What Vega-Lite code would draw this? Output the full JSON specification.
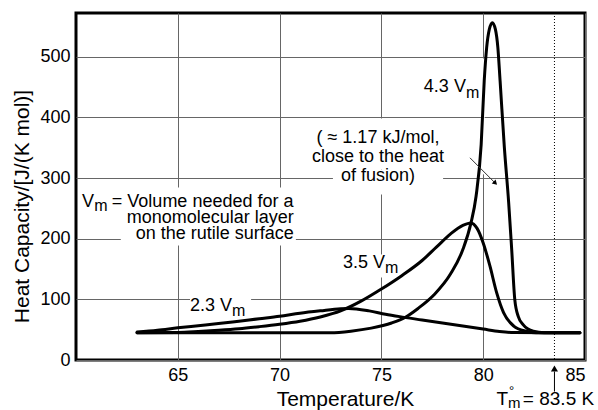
{
  "$schema": "https://vega.github.io/schema/vega-lite/v6.json",
  "width": 509,
  "height": 347,
  "autosize": {"type": "none"},
  "padding": {"left": 76, "top": 13, "right": 13, "bottom": 50},
  "background": "white",
  "config": {
    "font": "Liberation Sans",
    "view": {"stroke": "black", "strokeWidth": 3}
  },
  "datasets": {
    "curves": [
      {"s": "2.3", "t": 63, "c": 46}, {"s": "2.3", "t": 64, "c": 49}, {"s": "2.3", "t": 65, "c": 53}, {"s": "2.3", "t": 66, "c": 56.5},
      {"s": "2.3", "t": 67, "c": 60}, {"s": "2.3", "t": 68, "c": 64}, {"s": "2.3", "t": 69, "c": 68}, {"s": "2.3", "t": 70, "c": 72},
      {"s": "2.3", "t": 71, "c": 77}, {"s": "2.3", "t": 72, "c": 81}, {"s": "2.3", "t": 73, "c": 84.5}, {"s": "2.3", "t": 73.4, "c": 85},
      {"s": "2.3", "t": 74.4, "c": 81}, {"s": "2.3", "t": 75.2, "c": 75.5}, {"s": "2.3", "t": 75.9, "c": 71.5}, {"s": "2.3", "t": 77, "c": 66},
      {"s": "2.3", "t": 78, "c": 61}, {"s": "2.3", "t": 79, "c": 56}, {"s": "2.3", "t": 80, "c": 51}, {"s": "2.3", "t": 80.8, "c": 47},
      {"s": "2.3", "t": 81.5, "c": 45.3}, {"s": "2.3", "t": 84.75, "c": 45},
      {"s": "3.5", "t": 63, "c": 45}, {"s": "3.5", "t": 65, "c": 45.5}, {"s": "3.5", "t": 66, "c": 47}, {"s": "3.5", "t": 67, "c": 49},
      {"s": "3.5", "t": 68, "c": 51.5}, {"s": "3.5", "t": 69, "c": 55}, {"s": "3.5", "t": 70, "c": 59}, {"s": "3.5", "t": 71, "c": 64},
      {"s": "3.5", "t": 72, "c": 71}, {"s": "3.5", "t": 73, "c": 81}, {"s": "3.5", "t": 74, "c": 97}, {"s": "3.5", "t": 75, "c": 117},
      {"s": "3.5", "t": 76, "c": 139}, {"s": "3.5", "t": 77, "c": 164}, {"s": "3.5", "t": 77.7, "c": 186}, {"s": "3.5", "t": 78.4, "c": 208},
      {"s": "3.5", "t": 79, "c": 222}, {"s": "3.5", "t": 79.4, "c": 226}, {"s": "3.5", "t": 79.7, "c": 217}, {"s": "3.5", "t": 80, "c": 193},
      {"s": "3.5", "t": 80.33, "c": 155}, {"s": "3.5", "t": 80.66, "c": 111}, {"s": "3.5", "t": 81, "c": 78}, {"s": "3.5", "t": 81.5, "c": 56},
      {"s": "3.5", "t": 82.1, "c": 47.5}, {"s": "3.5", "t": 82.6, "c": 45}, {"s": "3.5", "t": 84.75, "c": 45},
      {"s": "4.3", "t": 63, "c": 45}, {"s": "4.3", "t": 72.5, "c": 45}, {"s": "4.3", "t": 73.5, "c": 47.5}, {"s": "4.3", "t": 74.5, "c": 52.5},
      {"s": "4.3", "t": 75.5, "c": 61}, {"s": "4.3", "t": 76.2, "c": 71}, {"s": "4.3", "t": 76.8, "c": 85}, {"s": "4.3", "t": 77.6, "c": 108},
      {"s": "4.3", "t": 78.4, "c": 142}, {"s": "4.3", "t": 79, "c": 182}, {"s": "4.3", "t": 79.4, "c": 226}, {"s": "4.3", "t": 79.65, "c": 270},
      {"s": "4.3", "t": 79.9, "c": 355}, {"s": "4.3", "t": 80.05, "c": 460}, {"s": "4.3", "t": 80.17, "c": 515}, {"s": "4.3", "t": 80.3, "c": 545},
      {"s": "4.3", "t": 80.45, "c": 556}, {"s": "4.3", "t": 80.6, "c": 545}, {"s": "4.3", "t": 80.72, "c": 515}, {"s": "4.3", "t": 80.83, "c": 460},
      {"s": "4.3", "t": 81.04, "c": 350}, {"s": "4.3", "t": 81.25, "c": 260}, {"s": "4.3", "t": 81.4, "c": 182}, {"s": "4.3", "t": 81.55, "c": 100},
      {"s": "4.3", "t": 81.72, "c": 72}, {"s": "4.3", "t": 81.97, "c": 58}, {"s": "4.3", "t": 82.46, "c": 47.5}, {"s": "4.3", "t": 83, "c": 45},
      {"s": "4.3", "t": 84.75, "c": 45}
    ],
    "masks": [
      {"x1": 60.2, "x2": 70.8, "y1": 284.4, "y2": 244.8},
      {"x1": 62.2, "x2": 70.8, "y1": 244.8, "y2": 188.8},
      {"x1": 71.4, "x2": 78.2, "y1": 398, "y2": 314},
      {"x1": 72.62, "x2": 78.03, "y1": 314, "y2": 273},
      {"x1": 79.93, "x2": 80.07, "y1": 306, "y2": 497},
      {"x1": 65.6, "x2": 68.6, "y1": 104, "y2": 95},
      {"x1": 74.83, "x2": 76.1, "y1": 174, "y2": 136}
    ],
    "textRight": [
      {"x": 70.7, "y": 225.8, "label": "monomolecular layer"},
      {"x": 70.7, "y": 199.5, "label": "on the rutile surface"},
      {"x": 79.15, "y": 441, "label": "4.3 V"},
      {"x": 75.18, "y": 152.3, "label": "3.5 V"},
      {"x": 67.66, "y": 80.4, "label": "2.3 V"}
    ],
    "textLeft": [
      {"x": 60.29, "y": 253, "label": "V"},
      {"x": 61.76, "y": 253, "label": "= Volume needed for a"}
    ],
    "textCenter": [
      {"x": 74.83, "y": 357, "label": "( ≈ 1.17 kJ/mol,"},
      {"x": 74.83, "y": 326.4, "label": "close to the heat"},
      {"x": 74.83, "y": 295.8, "label": "of fusion)"}
    ],
    "subM": [
      {"x": 60.9, "y": 244.8, "label": "m"},
      {"x": 79.15, "y": 432.7, "label": "m"},
      {"x": 75.18, "y": 144.2, "label": "m"},
      {"x": 67.66, "y": 72.2, "label": "m"}
    ],
    "bottomRight": [
      {"x": 85.45, "y": -73.4, "label": "= 83.5 K"}
    ],
    "bottomLeft": [
      {"x": 80.65, "y": -73.4, "label": "T"}
    ],
    "bottomSub": [
      {"x": 81.22, "y": -78.3, "label": "m"}
    ],
    "bottomSup": [
      {"x": 81.27, "y": -57.5, "label": "°"}
    ]
  },
  "layer": [
    {
      "data": {"name": "masks"},
      "mark": {"type": "rect", "fill": "white", "stroke": null},
      "encoding": {
        "x": {"field": "x1", "type": "quantitative",
              "scale": {"domain": [60, 85], "nice": false, "zero": false},
              "axis": {"values": [65, 70, 75, 80, 85], "grid": true, "gridColor": "#666", "gridWidth": 1,
                       "domain": false, "ticks": false, "tickSize": 0, "labelFontSize": 18, "labelColor": "black",
                       "labelPadding": 6, "title": "Temperature/K", "titleFontSize": 21, "titleFontWeight": "normal",
                       "titleColor": "black", "titleX": 269, "titleY": 45, "titleAlign": "center", "titleBaseline": "alphabetic"}},
        "x2": {"field": "x2"},
        "y": {"field": "y1", "type": "quantitative",
              "scale": {"domain": [0, 572], "nice": false, "zero": false},
              "axis": {"values": [0, 100, 200, 300, 400, 500], "grid": true, "gridColor": "#666", "gridWidth": 1,
                       "domain": false, "ticks": false, "tickSize": 0, "labelFontSize": 18, "labelColor": "black",
                       "labelPadding": 6, "title": "Heat Capacity/[J/(K mol)]", "titleFontSize": 21, "titleFontWeight": "normal",
                       "titleColor": "black", "titleX": -54, "titleY": 193, "titleAlign": "center", "titleBaseline": "middle", "titleAngle": 270}},
        "y2": {"field": "y2"}
      }
    },
    {
      "data": {"values": [{"x": 83.5}]},
      "mark": {"type": "rule", "color": "black", "strokeWidth": 1, "strokeDash": [1, 2]},
      "encoding": {"x": {"field": "x", "type": "quantitative"}}
    },
    {
      "data": {"name": "curves"},
      "mark": {"type": "line", "color": "black", "strokeWidth": 3, "interpolate": "monotone", "strokeJoin": "round", "strokeCap": "round"},
      "encoding": {
        "x": {"field": "t", "type": "quantitative"},
        "y": {"field": "c", "type": "quantitative"},
        "detail": {"field": "s", "type": "nominal"}
      }
    },
    {
      "data": {"values": [{"x": 79.35, "y": 333.3, "x2": 80.6, "y2": 291.3}]},
      "mark": {"type": "rule", "color": "#333", "strokeWidth": 1},
      "encoding": {
        "x": {"field": "x", "type": "quantitative"}, "y": {"field": "y", "type": "quantitative"},
        "x2": {"field": "x2"}, "y2": {"field": "y2"}
      }
    },
    {
      "data": {"values": [{"x": 80.57, "y": 292.5}]},
      "mark": {"type": "point", "shape": "triangle", "angle": 135, "filled": true, "color": "black", "size": 30, "opacity": 1},
      "encoding": {"x": {"field": "x", "type": "quantitative"}, "y": {"field": "y", "type": "quantitative"}}
    },
    {
      "data": {"values": [{"x": 83.5, "y": -52, "y2": -19}]},
      "mark": {"type": "rule", "color": "black", "strokeWidth": 1},
      "encoding": {"x": {"field": "x", "type": "quantitative"}, "y": {"field": "y", "type": "quantitative"}, "y2": {"field": "y2"}}
    },
    {
      "data": {"values": [{"x": 83.5, "y": -14}]},
      "mark": {"type": "point", "shape": "triangle-up", "filled": true, "color": "black", "size": 50, "opacity": 1},
      "encoding": {"x": {"field": "x", "type": "quantitative"}, "y": {"field": "y", "type": "quantitative"}}
    },
    {
      "data": {"name": "textRight"},
      "mark": {"type": "text", "align": "right", "baseline": "alphabetic", "fontSize": 18, "color": "black"},
      "encoding": {"x": {"field": "x", "type": "quantitative"}, "y": {"field": "y", "type": "quantitative"}, "text": {"field": "label"}}
    },
    {
      "data": {"name": "textLeft"},
      "mark": {"type": "text", "align": "left", "baseline": "alphabetic", "fontSize": 18, "color": "black"},
      "encoding": {"x": {"field": "x", "type": "quantitative"}, "y": {"field": "y", "type": "quantitative"}, "text": {"field": "label"}}
    },
    {
      "data": {"name": "textCenter"},
      "mark": {"type": "text", "align": "center", "baseline": "alphabetic", "fontSize": 18, "color": "black"},
      "encoding": {"x": {"field": "x", "type": "quantitative"}, "y": {"field": "y", "type": "quantitative"}, "text": {"field": "label"}}
    },
    {
      "data": {"name": "subM"},
      "mark": {"type": "text", "align": "left", "baseline": "alphabetic", "fontSize": 16, "color": "black"},
      "encoding": {"x": {"field": "x", "type": "quantitative"}, "y": {"field": "y", "type": "quantitative"}, "text": {"field": "label"}}
    },
    {
      "data": {"name": "bottomRight"},
      "mark": {"type": "text", "align": "right", "baseline": "alphabetic", "fontSize": 19, "color": "black"},
      "encoding": {"x": {"field": "x", "type": "quantitative"}, "y": {"field": "y", "type": "quantitative"}, "text": {"field": "label"}}
    },
    {
      "data": {"name": "bottomLeft"},
      "mark": {"type": "text", "align": "left", "baseline": "alphabetic", "fontSize": 19, "color": "black"},
      "encoding": {"x": {"field": "x", "type": "quantitative"}, "y": {"field": "y", "type": "quantitative"}, "text": {"field": "label"}}
    },
    {
      "data": {"name": "bottomSub"},
      "mark": {"type": "text", "align": "left", "baseline": "alphabetic", "fontSize": 15, "color": "black"},
      "encoding": {"x": {"field": "x", "type": "quantitative"}, "y": {"field": "y", "type": "quantitative"}, "text": {"field": "label"}}
    },
    {
      "data": {"name": "bottomSup"},
      "mark": {"type": "text", "align": "left", "baseline": "alphabetic", "fontSize": 13, "color": "black"},
      "encoding": {"x": {"field": "x", "type": "quantitative"}, "y": {"field": "y", "type": "quantitative"}, "text": {"field": "label"}}
    }
  ]
}
